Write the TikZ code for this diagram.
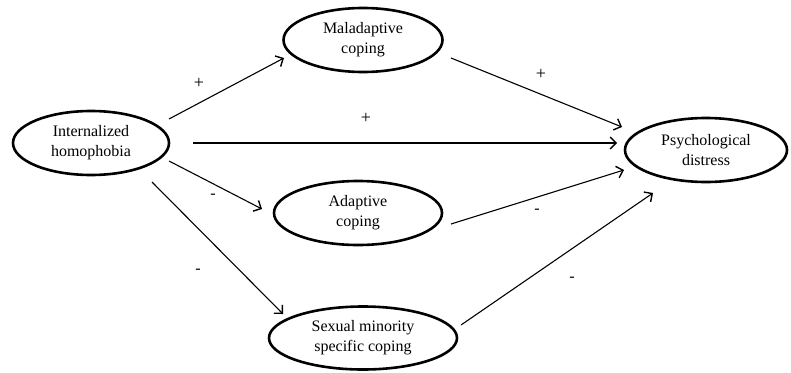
\documentclass[tikz,border=0pt]{standalone}
\usepackage{fontspec}
\setmainfont{Liberation Serif}
\usetikzlibrary{shapes.geometric,arrows.meta,calc}
\begin{document}
\begin{tikzpicture}[x=1pt,y=-1pt,
  var/.style={ellipse,draw,line width=2.6pt,inner sep=0pt,align=center,
    font=\fontsize{16}{20}\selectfont},
  arr/.style={line width=1.1pt,-{Straight Barb[length=6pt,width=12pt,line width=1.4pt]}},
  sign/.style={font=\fontsize{18}{20}\selectfont,inner sep=0pt},
  msign/.style={font=\fontsize{16}{18}\selectfont,inner sep=0pt}]
\useasboundingbox (0,0) rectangle (791,372);
\node[var,minimum width=156pt,minimum height=64pt] (ih) at (91,143) {Internalized\\homophobia};
\node[var,minimum width=159pt,minimum height=64pt] (mal) at (363,40) {Maladaptive\\coping};
\node[var,minimum width=168pt,minimum height=64pt] (ad) at (358,213) {Adaptive\\coping};
\node[var,minimum width=188pt,minimum height=63pt] (sm) at (363,338) {Sexual minority\\specific coping};
\node[var,minimum width=162pt,minimum height=64pt] (pd) at (706,150) {Psychological\\distress};
% endpoints relative to nodes
\coordinate (a1s) at ([shift={(78,-24)}]ih.center);
\coordinate (a1e) at ([shift={(-79,18)}]mal.center);
\coordinate (a2s) at ([shift={(102,0)}]ih.center);
\coordinate (a2e) at ([shift={(-89,-7)}]pd.center);
\coordinate (a3s) at ([shift={(88,18)}]mal.center);
\coordinate (a3e) at ([shift={(-84,-23)}]pd.center);
\coordinate (a4s) at ([shift={(78,18)}]ih.center);
\coordinate (a4e) at ([shift={(-96,-4)}]ad.center);
\coordinate (a5s) at ([shift={(93,11)}]ad.center);
\coordinate (a5e) at ([shift={(-82,20)}]pd.center);
\coordinate (a6s) at ([shift={(61,39)}]ih.center);
\coordinate (a6e) at ([shift={(-80,-24)}]sm.center);
\coordinate (a7s) at ([shift={(98,-13)}]sm.center);
\coordinate (a7e) at ([shift={(-53,43)}]pd.center);
\draw[arr] (a1s) -- (a1e);
\draw[arr] (a2s) -- (a2e);
\draw[arr] (a3s) -- (a3e);
\draw[arr] (a4s) -- (a4e);
\draw[arr] (a5s) -- (a5e);
\draw[arr] (a6s) -- (a6e);
\draw[arr] (a7s) -- (a7e);
\node[sign] (p1) at (199,83) {+};
\node[sign] (p2) at (366,118) {+};
\node[sign] (p3) at (541,74) {+};
\node[msign] (m1) at (213,196) {-};
\node[msign] (m2) at (537,211) {-};
\node[msign] (m3) at (198,271) {-};
\node[msign] (m4) at (572,279) {-};
\end{tikzpicture}
\end{document}
